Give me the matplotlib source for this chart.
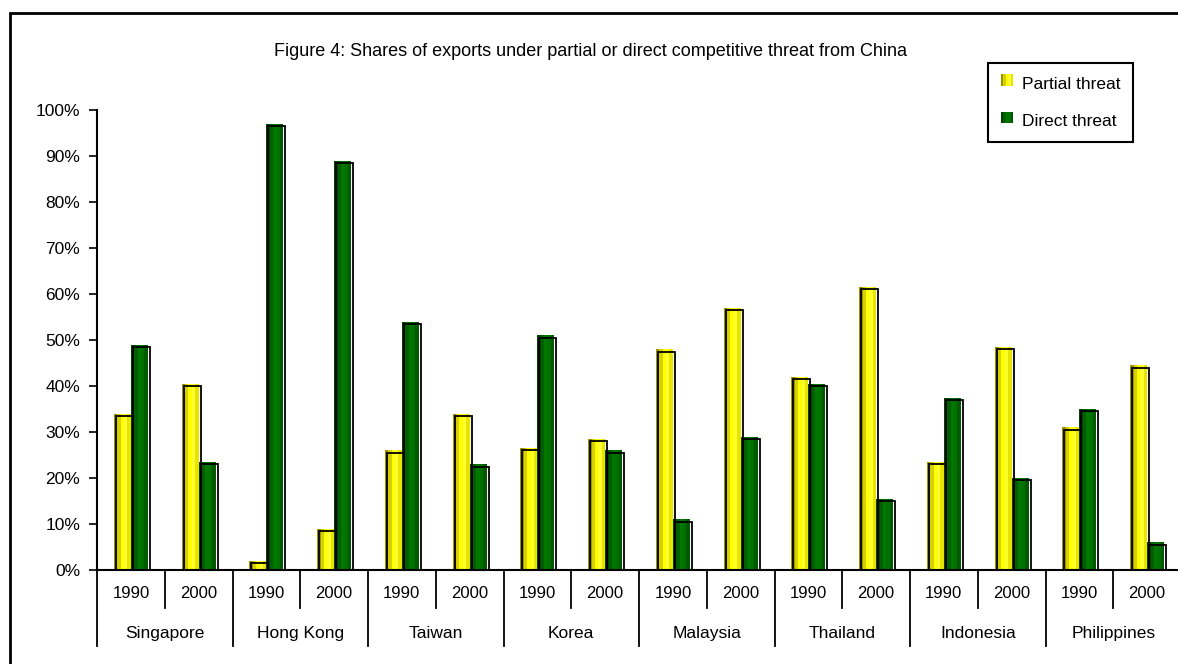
import numpy as np
import matplotlib.pyplot as plt
from matplotlib.patches import Rectangle, Patch
from matplotlib.legend_handler import HandlerBase

plt.rcParams['font.family'] = ['Liberation Sans', 'DejaVu Sans']

countries = ['Singapore', 'Hong Kong', 'Taiwan', 'Korea',
             'Malaysia', 'Thailand', 'Indonesia', 'Philippines']
years = ['1990', '2000']
partial = [34, 40.5, 2, 9, 26, 34, 26.5, 28.5,
           48, 57, 42, 61.5, 23.5, 48.5, 31, 44.5]
direct = [49, 23.5, 97, 89, 54, 23, 51, 26,
          11, 29, 40.5, 15.5, 37.5, 20, 35, 6]

# colour stripes left -> right, fakes the cylinder look
yellow_shades = ['#9c9400', '#d6d000', '#ffff00', '#ffff30', '#e8e400']
green_shades = ['#004400', '#006000', '#007800', '#007000', '#005a00']

fig = plt.figure(figsize=(11.78, 6.64), dpi=100)
ax = fig.add_axes([97 / 1178, 94 / 664, 1084 / 1178, 460 / 664])

x = np.arange(len(partial))
w = 0.25


def cyl_bars(pos, vals, shades):
    n = len(shades)
    sw = w / n
    for i, c in enumerate(shades):
        ax.bar(pos - w / 2 + sw * (i + 0.5), vals, width=sw, color=c,
               linewidth=0, zorder=2)
    # shadow outline shifted right/down a bit
    ax.bar(pos + 0.03, np.array(vals) - 0.5, width=w, fill=False,
           edgecolor='black', linewidth=1.3, zorder=3)


cyl_bars(x - w / 2, partial, yellow_shades)
cyl_bars(x + w / 2, direct, green_shades)

ax.set_xlim(-0.5, len(partial) - 0.5)
ax.set_ylim(0, 100)
ax.set_yticks(np.arange(0, 101, 10))
ax.set_yticklabels(['%d%%' % v for v in range(0, 101, 10)], fontsize=12.5)
ax.set_xticks([])
ax.tick_params(axis='y', direction='out', length=6, width=1.2, pad=6)
for s in ['top', 'right']:
    ax.spines[s].set_visible(False)
ax.spines['left'].set_linewidth(1.5)
ax.spines['bottom'].set_linewidth(1.5)

# two-level category axis
trans = ax.get_xaxis_transform()
for i in range(len(partial) + 1):
    xp = i - 0.5
    y0 = -0.165 if i % 2 == 0 else -0.083
    ax.plot([xp, xp], [0, y0], color='black', lw=1.3, transform=trans,
            clip_on=False)
for i in range(len(partial)):
    ax.text(i, -0.05, years[i % 2], transform=trans, ha='center',
            va='center', fontsize=12)
for j, c in enumerate(countries):
    ax.text(2 * j + 0.5, -0.137, c, transform=trans, ha='center',
            va='center', fontsize=12.5)

fig.text(591 / 1178, 1 - 52 / 664,
         'Figure 4: Shares of exports under partial or direct competitive threat from China',
         ha='center', va='center', fontsize=13)


class StripeHandler(HandlerBase):
    def __init__(self, shades):
        super().__init__()
        self.shades = shades

    def create_artists(self, legend, orig, xd, yd, width, height, fontsize, trans):
        n = len(self.shades)
        sw = width
        sh = height * 0.9
        arts = []
        for i, c in enumerate(self.shades):
            r = Rectangle((xd + sw / n * i, yd + height * 0.15), sw / n, sh,
                          facecolor=c, linewidth=0, transform=trans)
            arts.append(r)
        return arts


h1 = Patch(label='Partial threat')
h2 = Patch(label='Direct threat')
leg = fig.legend(handles=[h1, h2], loc='upper left',
                 bbox_to_anchor=(988 / 1178, 1 - 63 / 664),
                 borderaxespad=0,
                 handler_map={h1: StripeHandler(yellow_shades),
                              h2: StripeHandler(green_shades)},
                 fontsize=12.5, frameon=True, fancybox=False,
                 borderpad=0.75, labelspacing=1.25, handlelength=0.7,
                 handleheight=0.8, handletextpad=0.5, framealpha=1)
leg.get_frame().set_edgecolor('black')
leg.get_frame().set_linewidth(1.5)

# outer frame
fig.patches.append(Rectangle((10 / 1178, -0.1), 1.2, 1 - 13 / 664 + 0.1,
                             transform=fig.transFigure, fill=False,
                             edgecolor='black', linewidth=2))

fig.savefig('out.png', dpi=100)
